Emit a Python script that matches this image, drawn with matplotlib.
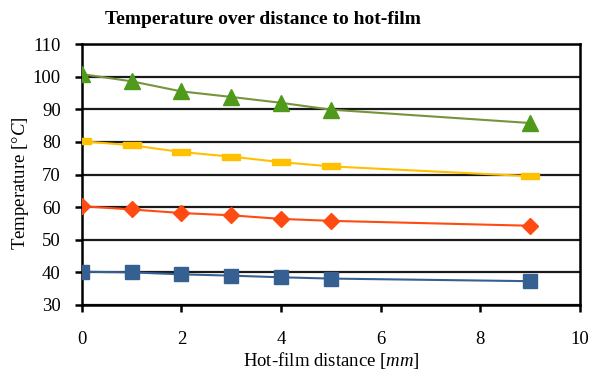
import matplotlib
matplotlib.use("Agg")
import matplotlib.pyplot as plt
import numpy as np

plt.rcParams['font.family'] = ['Liberation Serif', 'DejaVu Serif']
plt.rcParams['mathtext.fontset'] = 'custom'
plt.rcParams['mathtext.rm'] = 'Liberation Serif'
plt.rcParams['mathtext.it'] = 'Liberation Serif:italic'

# Measured temperatures at each distance from the hot-film
distance_mm = [0, 1, 2, 3, 4, 5, 9]
temp_100 = [100.8, 98.6, 95.5, 93.8, 92.0, 89.9, 85.8]
temp_80 = [80.2, 79.0, 76.9, 75.5, 73.8, 72.5, 69.5]
temp_60 = [60.3, 59.3, 58.2, 57.5, 56.4, 55.8, 54.3]
temp_40 = [40.2, 40.0, 39.4, 39.0, 38.5, 38.1, 37.3]

x_ticks = [0, 2, 4, 6, 8, 10]
y_ticks = [30, 40, 50, 60, 70, 80, 90, 100, 110]

fig = plt.figure(figsize=(5.94, 3.77), dpi=100)
ax = fig.add_axes([0.1375, 0.191, 0.839, 0.692])

# flat bar marker for the 80 degree series
bar = np.array([[-1, -0.35], [1, -0.35], [1, 0.35], [-1, 0.35], [-1, -0.35]])

ax.plot(distance_mm, temp_100, color='#77933C', lw=1.5, marker='^', ms=11,
        mfc='#4F9A1A', mec='#4F9A1A', zorder=4)
ax.plot(distance_mm, temp_80, color='#FFC000', lw=1.5, marker=bar, ms=13,
        mfc='#FFC000', mec='#FFC000', zorder=4)
ax.plot(distance_mm, temp_60, color='#FF4A12', lw=1.5, marker='D', ms=8,
        mfc='#FF4A12', mec='#FF4A12', zorder=4)
ax.plot(distance_mm, temp_40, color='#376092', lw=1.5, marker='s', ms=10,
        mfc='#376092', mec='#376092', zorder=4)

ax.set_xlim(0, 10)
ax.set_ylim(30, 110)
ax.set_xticks(x_ticks)
ax.set_yticks(y_ticks)
ax.grid(axis='y', color='#1a1a1a', lw=1.6, zorder=1)
ax.set_axisbelow(True)

for s in ax.spines.values():
    s.set_linewidth(1.8)
    s.set_color('black')

ax.tick_params(axis='both', direction='out', length=5, width=1.8,
               labelsize=13.5, colors='black')
ax.tick_params(axis='x', pad=14)
ax.tick_params(axis='y', pad=10)

ax.set_xlabel(r'Hot-film distance [$mm$]', fontsize=13.5, va='center')
ax.xaxis.set_label_coords(0.5, -0.212)
ax.set_ylabel(r'Temperature [$\mathit{°C}$]', fontsize=13.5, va='center')
ax.yaxis.set_label_coords(-0.122, 0.467)
fig.text(0.443, 0.947, 'Temperature over distance to hot-film', fontsize=14,
         fontweight='bold', ha='center', va='center')

fig.savefig('out.png', dpi=100)
